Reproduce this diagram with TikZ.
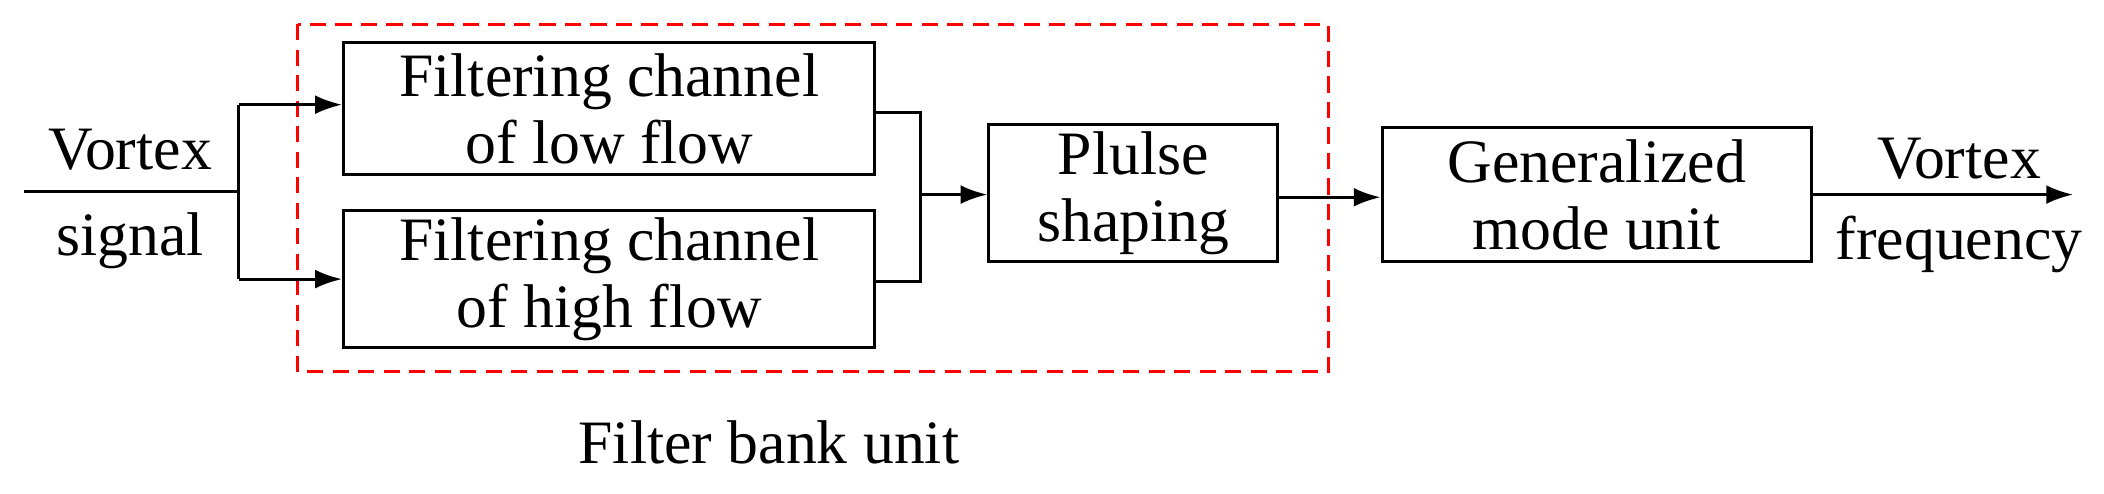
\documentclass[tikz,border=0pt]{standalone}
\usepackage{fontspec}
\setmainfont{Liberation Serif}
\usetikzlibrary{arrows.meta}
\begin{document}
\begin{tikzpicture}[x=1pt,y=-1pt,line width=2.2pt,
  blk/.style={draw,rectangle,inner sep=0pt,align=center,font=\fontsize{46}{50}\selectfont},
  lbl/.style={align=center,font=\fontsize{46}{50}\selectfont},
  arr/.style={-{Latex[length=20pt,width=14pt]}}]
\useasboundingbox (0,0) rectangle (1568,368);
\draw[red,dashed,dash pattern=on 12pt off 7pt] (222,18) rectangle (990,277);
\node[blk,minimum width=396pt,minimum height=98pt] (low) at (454,81) {Filtering channel\\of low flow};
\node[blk,minimum width=396pt,minimum height=102pt] (high) at (454,208) {Filtering channel\\of high flow};
\node[blk,minimum width=215pt,minimum height=102pt] (pul) at (844.5,144) {Plulse\\shaping};
\node[blk,minimum width=320pt,minimum height=100pt] (gen) at (1190,145) {Generalized\\mode unit};
\coordinate (in) at (18,143);
\coordinate (sp) at (178,143);
\coordinate (mg) at (686,145);
\coordinate (out) at (1545,145);
\draw (in) -- (sp);
\draw (178,78) -- (178,208);
\draw[arr] (178,78) -- (low.west |- 0,78);
\draw[arr] (178,208) -- (high.west |- 0,208);
\draw (low.east |- 0,84) -- (686,84) -- (686,210) -- (high.east |- 0,210);
\draw[arr] (mg) -- (pul.west |- mg);
\draw[arr] (pul.east |- 0,147) -- (gen.west |- 0,147);
\draw[arr] (gen.east |- out) -- (out);
\node[lbl] (vs) at (97,148) {Vortex\\[14pt]signal};
\node[lbl] (vf) at (1460,153) {Vortex\\[10pt]frequency};
\node[lbl] (fb) at (573,330) {Filter bank unit};
\end{tikzpicture}
\end{document}
